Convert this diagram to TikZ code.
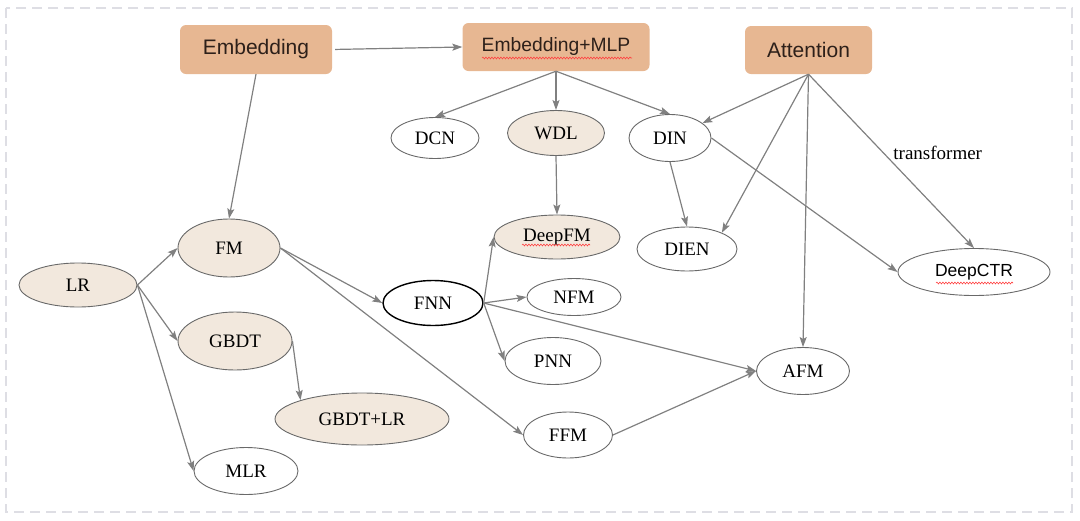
\documentclass[tikz,border=0pt]{standalone}
\usepackage{fontspec}
\setmainfont{Liberation Serif}
\setsansfont{Liberation Sans}
\usetikzlibrary{arrows.meta,shapes.geometric,decorations.pathmorphing}
\definecolor{boxtan}{RGB}{231,183,146}
\definecolor{nodecream}{RGB}{242,232,221}
\definecolor{edgegrey}{RGB}{128,128,128}
\definecolor{ringgrey}{RGB}{105,105,105}
\definecolor{framegrey}{RGB}{222,222,228}
\definecolor{inkbrown}{RGB}{45,32,26}

\begin{document}
\begin{tikzpicture}[x=1pt,y=-1pt,>={Stealth[length=10pt,width=7pt,inset=2pt]},
    group node/.style={rectangle,rounded corners=6pt,fill=boxtan,text=inkbrown,inner sep=0pt,
      font=\sffamily\fontsize{21}{24}\selectfont},
    model node/.style={ellipse,draw=ringgrey,line width=0.9pt,inner sep=0pt,
      font=\fontsize{19}{22}\selectfont},
    base node/.style={model node,fill=nodecream},
    link/.style={->,draw=edgegrey,line width=1.2pt},
    spell mark/.style={draw=red!75,line width=0.6pt,decorate,
      decoration={snake,amplitude=0.9pt,segment length=3pt}}]
    \useasboundingbox (0,0) rectangle (1080,520);
    \draw[framegrey,line width=1.6pt,dash pattern=on 10pt off 6pt] (6,8) rectangle (1072,512);
    % category boxes
    \node[group node,minimum width=152pt,minimum height=49pt] (emb) at (256,49.5) {Embedding};
    \node[group node,minimum width=187pt,minimum height=48pt,font=\sffamily\fontsize{19.3}{22}\selectfont] (mlp) at (556,47) {Embedding+MLP};
    \node[group node,minimum width=127pt,minimum height=48pt] (att) at (808.5,50) {Attention};
    % models
    \node[model node,minimum width=88pt,minimum height=41pt] (dcn) at (435,138) {DCN};
    \node[base node,minimum width=97pt,minimum height=45pt] (wdl) at (556,133) {WDL};
    \node[model node,minimum width=82pt,minimum height=47pt] (din) at (670,138) {DIN};
    \node[base node,minimum width=102pt,minimum height=58pt] (fm) at (229,248) {FM};
    \node[base node,minimum width=118pt,minimum height=44pt] (lr) at (78,285) {LR};
    \node[base node,minimum width=114pt,minimum height=58pt] (gbdt) at (235,341) {GBDT};
    \node[base node,minimum width=174pt,minimum height=52pt] (gbdtlr) at (362,419) {GBDT+LR};
    \node[model node,minimum width=104pt,minimum height=47pt] (mlr) at (246,471) {MLR};
    \node[model node,minimum width=100pt,minimum height=45pt,draw=black,line width=1.4pt] (fnn) at (433,303) {FNN};
    \node[base node,minimum width=126pt,minimum height=44pt] (deepfm) at (557,237) {DeepFM};
    \node[model node,minimum width=94pt,minimum height=37pt] (nfm) at (574,297) {NFM};
    \node[model node,minimum width=96pt,minimum height=47pt] (pnn) at (553,361) {PNN};
    \node[model node,minimum width=100pt,minimum height=44pt] (dien) at (687,249) {DIEN};
    \node[model node,minimum width=152pt,minimum height=47pt,font=\sffamily\fontsize{17.5}{20}\selectfont] (ctr) at (974,272) {DeepCTR};
    \node[model node,minimum width=93pt,minimum height=47pt] (afm) at (803,371) {AFM};
    \node[model node,minimum width=89pt,minimum height=46pt] (ffm) at (568,435) {FFM};
    % spell-check marks
    \draw[spell mark] ([xshift=-74pt,yshift=-11pt]mlp.center) -- ([xshift=76pt,yshift=-11pt]mlp.center);
    \draw[spell mark] ([xshift=-35pt,yshift=-8pt]deepfm.center) -- ([xshift=33pt,yshift=-8pt]deepfm.center);
    \draw[spell mark] ([xshift=-38pt,yshift=-11pt]ctr.center) -- ([xshift=39pt,yshift=-11pt]ctr.center);
    % connections
    \path[every edge/.style={link}]
    (emb.east) edge[shorten <=3pt] (mlp.west)
    (emb.south) edge (fm.north)
    (mlp.south) edge (dcn.north)
    edge (wdl.north)
    edge (din.north)
    (att.south) edge (din)
    edge (dien.25)
    edge (afm.north)
    edge node[pos=0.453,right=6pt,text=black,font=\fontsize{19}{22}\selectfont] {transformer} (ctr.north)
    (din.south) edge (dien.north)
    (din.east) edge (ctr.west)
    (wdl.south) edge (deepfm.north)
    (lr.east) edge (fm.west)
    edge (gbdt.west)
    edge (mlr.west)
    (gbdt.east) edge (gbdtlr.163)
    (fm.east) edge (fnn.west)
    edge (ffm.west)
    (fnn.east) edge (deepfm.west)
    edge (nfm.west)
    edge (pnn.west)
    edge (afm.west)
    (ffm.east) edge (afm.west);
\end{tikzpicture}
\end{document}
